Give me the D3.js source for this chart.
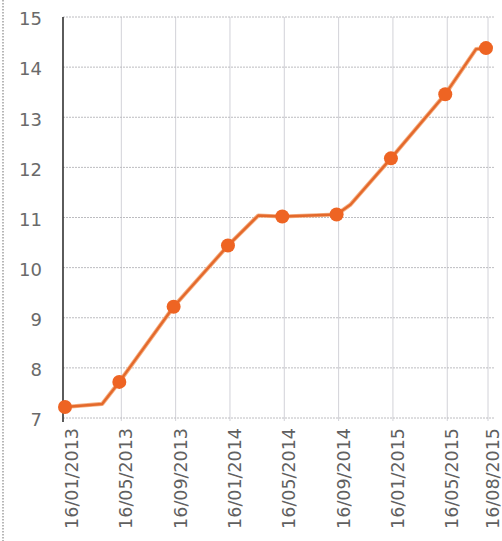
<!DOCTYPE html>
<html>
<head>
<meta charset="utf-8">
<script src="https://cdn.jsdelivr.net/npm/d3@7"></script>
<style>
  html, body { margin: 0; padding: 0; background: #fff; }
  svg { display: block; }
</style>
</head>
<body>
<svg id="chart" width="502" height="541"></svg>
<script>
// Labelled dates (marked points) and their values
const tickDates = ["16/01/2013", "16/05/2013", "16/09/2013", "16/01/2014", "16/05/2014",
                   "16/09/2014", "16/01/2015", "16/05/2015", "16/08/2015"];
const tickValues = [7.22, 7.72, 9.22, 10.44, 11.02, 11.06, 12.18, 13.46, 14.38];

// Full series (including unmarked intermediate readings)
const seriesDates = ["16/01/2013", "08/04/2013", "16/05/2013", "16/09/2013", "16/01/2014",
                     "23/03/2014", "16/05/2014", "16/09/2014", "17/10/2014", "16/01/2015",
                     "16/05/2015", "24/07/2015", "16/08/2015"];
const seriesValues = [7.22, 7.28, 7.72, 9.22, 10.44, 11.04, 11.02, 11.06, 11.26, 12.18,
                      13.46, 14.36, 14.38];

const yTicks = [7, 8, 9, 10, 11, 12, 13, 14, 15];

const parse = d3.utcParse("%d/%m/%Y");
const origin = parse(tickDates[0]);
// position on a monthly axis: whole months from the start plus the fraction of a month
function monthPos(s) {
  const d = parse(s);
  return (d.getUTCFullYear() - origin.getUTCFullYear()) * 12 +
         (d.getUTCMonth() - origin.getUTCMonth()) +
         (d.getUTCDate() - origin.getUTCDate()) / 30;
}

const svg = d3.select("#chart");
const plotLeft = 63, plotRight = 486, plotTop = 17, plotBottom = 418;

const x = d3.scaleLinear().domain([0, monthPos(tickDates[tickDates.length - 1])]).range([65, plotRight]);
const y = d3.scaleLinear().domain([7, 15]).range([plotBottom, plotTop]);

// dotted page edge
svg.append("line")
  .attr("x1", 3).attr("x2", 3).attr("y1", 0).attr("y2", 541)
  .attr("stroke", "#888").attr("stroke-width", 1.2)
  .attr("stroke-dasharray", "1.5,1.5");

// vertical grid lines
svg.append("g").selectAll("line").data(tickDates.slice(1)).join("line")
  .attr("x1", d => x(monthPos(d)) + 2).attr("x2", d => x(monthPos(d)) + 2)
  .attr("y1", plotTop).attr("y2", plotBottom + 3)
  .attr("stroke", "#d2d2d8").attr("stroke-width", 1);

// horizontal dotted grid lines
svg.append("g").selectAll("line").data(yTicks).join("line")
  .attr("x1", plotLeft).attr("x2", 494)
  .attr("y1", d => y(d)).attr("y2", d => y(d))
  .attr("stroke", "#bcbcc0").attr("stroke-width", 1)
  .attr("stroke-dasharray", "2,1");

// left axis line
svg.append("line")
  .attr("x1", plotLeft).attr("x2", plotLeft).attr("y1", plotTop).attr("y2", plotBottom + 4)
  .attr("stroke", "#333").attr("stroke-width", 1.6);

// y tick labels
svg.append("g").selectAll("text").data(yTicks).join("text")
  .attr("x", 42).attr("y", d => y(d) + 2)
  .attr("dy", "0.35em")
  .attr("text-anchor", "end")
  .attr("font-family", "DejaVu Sans, sans-serif")
  .attr("font-size", 18)
  .attr("fill", "#6a6a6a")
  .text(d => d);

// x tick labels, rotated
svg.append("g").selectAll("text").data(tickDates).join("text")
  .attr("transform", d => `translate(${x(monthPos(d)) + 7},${plotBottom + 10}) rotate(-90)`)
  .attr("dy", "0.35em")
  .attr("text-anchor", "end")
  .attr("font-family", "DejaVu Sans, sans-serif")
  .attr("font-size", 17.5)
  .attr("fill", "#606060")
  .text(d => d);

// series line
const line = d3.line()
  .x((d, i) => x(monthPos(seriesDates[i])))
  .y(d => y(d));

svg.append("path")
  .datum(seriesValues)
  .attr("fill", "none")
  .attr("stroke", "#f5b185")
  .attr("stroke-width", 4.2)
  .attr("stroke-linejoin", "round")
  .attr("d", line);
svg.append("path")
  .datum(seriesValues)
  .attr("fill", "none")
  .attr("stroke", "#e4692c")
  .attr("stroke-width", 2.4)
  .attr("stroke-linejoin", "round")
  .attr("d", line);

// markers on labelled dates
svg.append("g").selectAll("circle").data(tickValues).join("circle")
  .attr("cx", (d, i) => x(monthPos(tickDates[i])))
  .attr("cy", d => y(d))
  .attr("r", 7)
  .attr("fill", "#ee6423");
</script>
</body>
</html>
